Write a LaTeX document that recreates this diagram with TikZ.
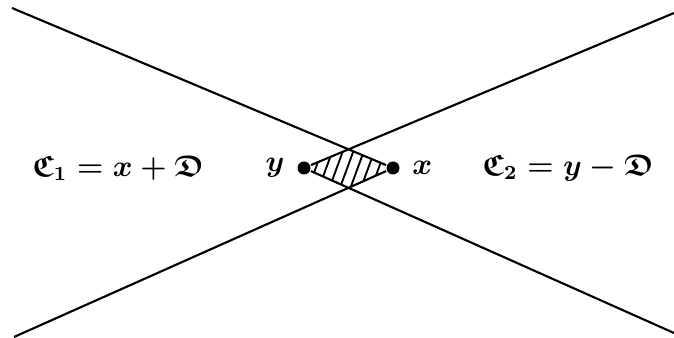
\documentclass[tikz,border=0pt]{standalone}
\usepackage{amsmath,amssymb}
\usetikzlibrary{positioning}

\begin{document}
\begin{tikzpicture}[x=0.4pt,y=-0.4pt,line width=0.85pt,
  dot/.style={circle,fill,inner sep=0pt,minimum size=5.2pt},
  lbl/.style={font=\large\boldmath}]
  \useasboundingbox (0,0) rectangle (674,338);
  \node[dot] (pty) at (304,168) {};
  \node[dot] (ptx) at (393,168) {};
  \coordinate (ul) at (12,8);
  \coordinate (ll) at (14,337);
  \coordinate (ur) at (674,13);
  \coordinate (lr) at (674,333);
  \coordinate (top) at (intersection of ptx.center--ul and pty.center--ur);
  \coordinate (bot) at (intersection of ptx.center--ll and pty.center--lr);
  % hatched part
  \begin{scope}
    \clip (pty.center) -- (top) -- (ptx.center) -- (bot) -- cycle;
    \foreach \i in {0,...,11}
      \draw[line width=0.75pt] (283+10.5*\i,200) -- ++(22,-60);
  \end{scope}
  \draw (ptx) -- (ul) (ptx) -- (ll) (pty) -- (ur) (pty) -- (lr);
  \node[lbl,left=1pt of pty] (ly) {$y$};
  \node[lbl,right=1pt of ptx] (lx) {$x$};
  \node[lbl] (c1) at (118,168) {$\mathfrak{C}_1 = x + \mathfrak{D}$};
  \node[lbl] (c2) at (568,168) {$\mathfrak{C}_2 = y - \mathfrak{D}$};
\end{tikzpicture}
\end{document}
